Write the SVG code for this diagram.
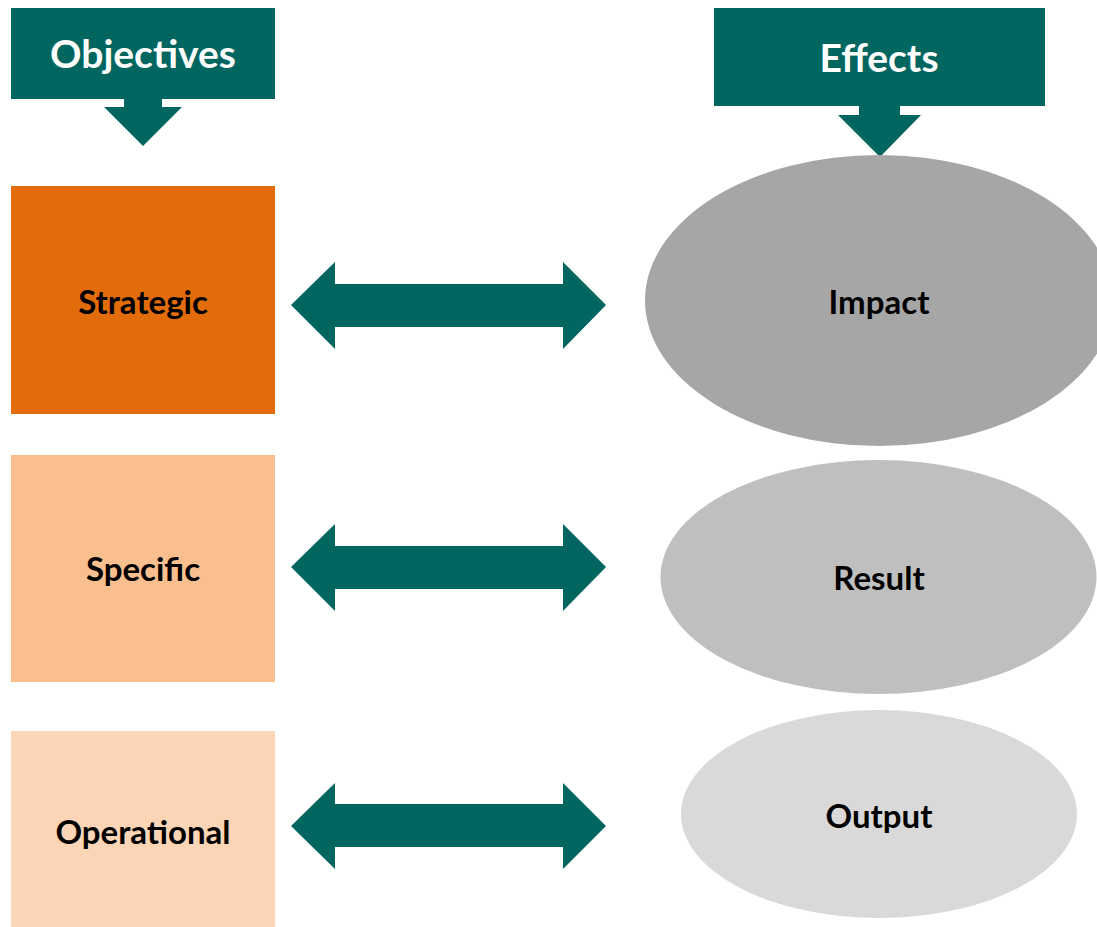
<svg xmlns="http://www.w3.org/2000/svg" width="1097" height="927" viewBox="0 0 1097 927">
<style>
.teal{fill:#016560}
.hdr{font-family:Lato,"Open Sans","Liberation Sans",sans-serif;font-weight:700;font-size:39px;fill:#ffffff;text-anchor:middle}
.lbl{font-family:Lato,"Open Sans","Liberation Sans",sans-serif;font-weight:700;font-size:33px;fill:#000000;text-anchor:middle}
</style>
<rect width="1097" height="927" fill="#ffffff"/>
<g id="objectives">
<rect class="teal" x="11" y="8" width="264" height="91"/>
<polygon class="teal" points="124,99 162,99 162,107 182,107 143,146 104,107 124,107"/>
<text class="hdr" x="143" y="68">Objectives</text>
</g>
<g id="effects">
<rect class="teal" x="714" y="8" width="331" height="98"/>
<polygon class="teal" points="859,106 900,106 900,115 921,115 880,157 838,115 859,115"/>
<text class="hdr" x="879" y="72">Effects</text>
</g>
<g id="strategic">
<rect x="11" y="186" width="264" height="228" fill="#E36C0A"/>
<text class="lbl" x="143" y="314">Strategic</text>
</g>
<g id="specific">
<rect x="11" y="455" width="264" height="227" fill="#F9BF8F"/>
<text class="lbl" x="143" y="581">Specific</text>
</g>
<g id="operational">
<rect x="11" y="731" width="264" height="196" fill="#FBD5B5"/>
<text class="lbl" x="143" y="844">Operational</text>
</g>
<g id="impact">
<ellipse cx="879" cy="300.5" rx="234" ry="145.5" fill="#A6A6A6"/>
<text class="lbl" x="879" y="314">Impact</text>
</g>
<g id="result">
<ellipse cx="878.5" cy="577" rx="218" ry="117" fill="#BFBFBF"/>
<text class="lbl" x="879" y="590">Result</text>
</g>
<g id="output">
<ellipse cx="879" cy="814" rx="198" ry="104" fill="#D9D9D9"/>
<text class="lbl" x="879" y="828">Output</text>
</g>
<g id="connectors">
<polygon class="teal" points="291,305 335,262 335,284 563,284 563,262 606,305 563,349 563,327 335,327 335,349"/>
<polygon class="teal" points="291,567 335,524 335,546 563,546 563,524 606,567 563,611 563,589 335,589 335,611"/>
<polygon class="teal" points="291,826 335,783 335,804 563,804 563,783 606,826 563,869 563,847 335,847 335,869"/>
</g>
</svg>
